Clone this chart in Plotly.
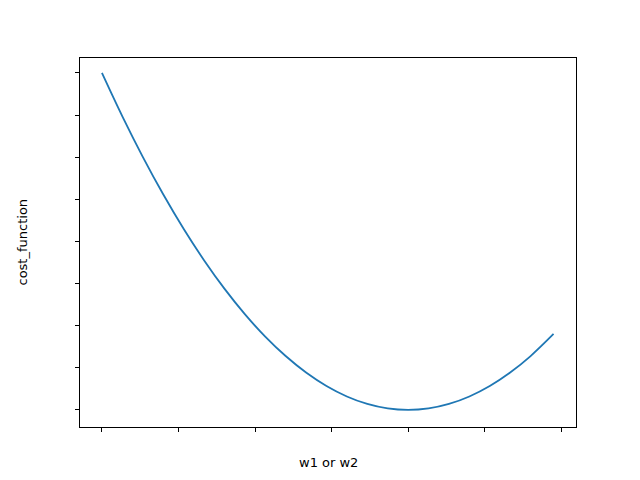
import plotly.graph_objects as go

# weight values and cost
w = [-6.0, -5.6, -5.2, -4.8, -4.4, -4.0, -3.6, -3.2, -2.8, -2.4, -2.0, -1.6,
     -1.2, -0.8, -0.4, 0.0, 0.4, 0.8, 1.2, 1.6, 2.0, 2.4, 2.85]
cost = [36.0, 31.36, 27.04, 23.04, 19.36, 16.0, 12.96, 10.24, 7.84, 5.76, 4.0, 2.56,
        1.44, 0.64, 0.16, 0.0, 0.16, 0.64, 1.44, 2.56, 4.0, 5.76, 8.12]
x_ticks = [-6, -4.5, -3, -1.5, 0, 1.5, 3]
y_ticks = [0, 4.5, 9, 13.5, 18, 22.5, 27, 31.5, 36]

fig = go.Figure(go.Scatter(x=w, y=cost, mode="lines", line=dict(color="#1f77b4", width=1.8, shape="spline")))

axis = dict(showgrid=False, zeroline=False, showline=True, linecolor="black", linewidth=1,
            mirror=True, ticks="outside", ticklen=4, tickcolor="black", showticklabels=False)
fig.update_xaxes(range=[-6.43, 3.29], tickvals=x_ticks, **axis)
fig.update_yaxes(range=[-1.82, 37.6], tickvals=y_ticks, **axis)

fig.update_layout(
    width=640, height=480, plot_bgcolor="white", paper_bgcolor="white",
    margin=dict(l=72, r=72, t=50, b=61, autoexpand=False), showlegend=False,
    font=dict(family="DejaVu Sans", size=13, color="black"),
    annotations=[
        dict(text="w1 or w2", x=0.5, y=0, xref="paper", yref="paper", showarrow=False,
             yanchor="middle", yshift=-35),
        dict(text="cost_function", x=0, y=0.5, xref="paper", yref="paper", showarrow=False,
             textangle=-90, xanchor="center", xshift=-58),
    ],
)
fig.write_html("out.html")
